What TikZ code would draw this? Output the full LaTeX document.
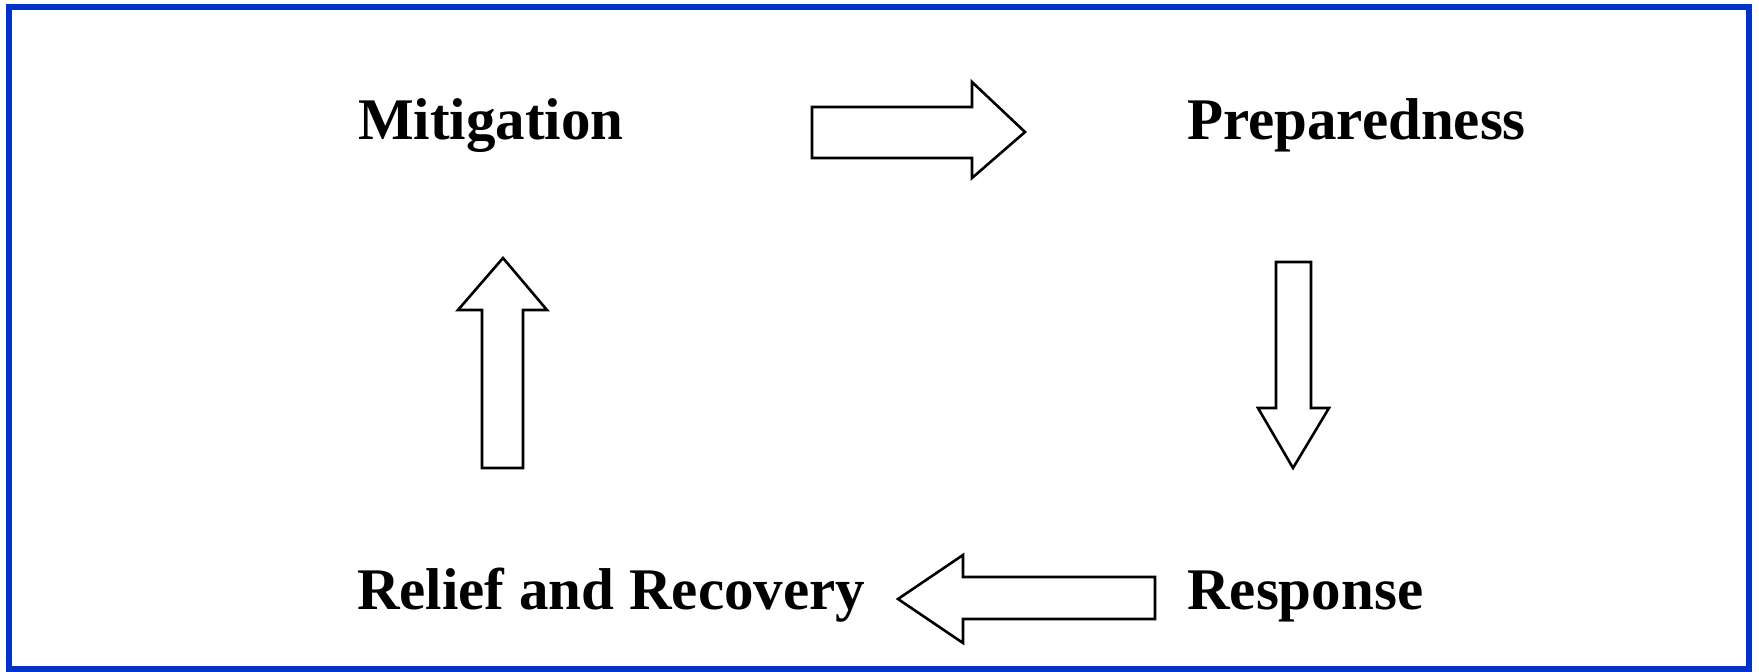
\documentclass[tikz,border=0pt]{standalone}
\usepackage{fontspec}
\setmainfont{Liberation Serif}
\definecolor{frameblue}{RGB}{0,51,204}
\begin{document}
\begin{tikzpicture}[x=1pt,y=-1pt,
  lbl/.style={anchor=base west,inner sep=0pt,font=\fontsize{59}{62}\selectfont\bfseries},
  blockarrow/.style={draw=black,line width=2.6pt,fill=white,line join=miter}]
\useasboundingbox (0,0) rectangle (1759,672);
\draw[frameblue,line width=6pt] (9,7) rectangle (1749,669);
% labels
\node[lbl] (mit) at (358,139) {Mitigation};
\node[lbl] (prep) at (1187,139) {Preparedness};
\node[lbl] (resp) at (1187,609) {Response};
\node[lbl] (rel) at (357,609) {Relief and Recovery};
% right arrow (Mitigation -> Preparedness)
\draw[blockarrow] (812,107) -- (972,107) -- (972,82) -- (1025,132) -- (972,178) -- (972,158) -- (812,158) -- cycle;
% down arrow (Preparedness -> Response)
\draw[blockarrow] (1276,262) -- (1311,262) -- (1311,408) -- (1329,408) -- (1293,468) -- (1258,408) -- (1276,408) -- cycle;
% left arrow (Response -> Relief and Recovery)
\draw[blockarrow] (1155,577) -- (963,577) -- (963,555) -- (898,599) -- (963,643) -- (963,619) -- (1155,619) -- cycle;
% up arrow (Relief and Recovery -> Mitigation)
\draw[blockarrow] (482,468) -- (482,310) -- (458,310) -- (503,258) -- (547,310) -- (523,310) -- (523,468) -- cycle;
\end{tikzpicture}
\end{document}
